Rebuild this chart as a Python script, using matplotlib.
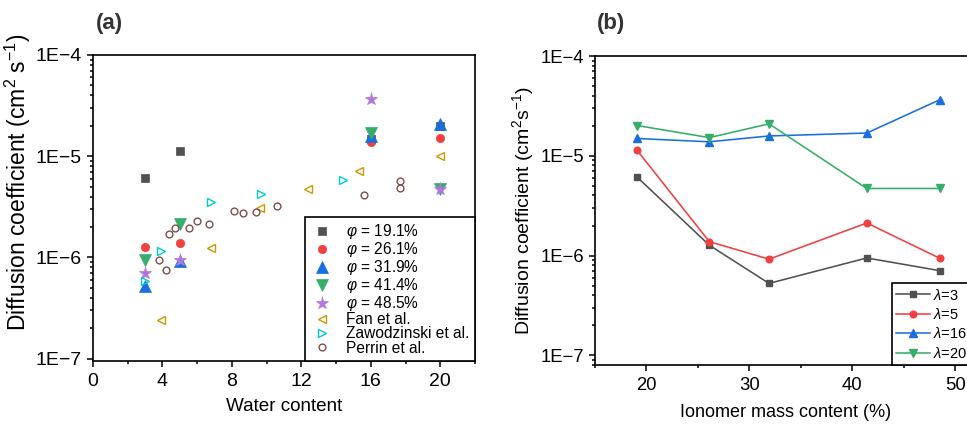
import matplotlib
matplotlib.use("Agg")
import math
import matplotlib.pyplot as plt
from matplotlib.ticker import LogLocator, MultipleLocator, FuncFormatter, NullFormatter

plt.rcParams['font.family'] = ['Liberation Sans', 'DejaVu Sans']
plt.rcParams['mathtext.fontset'] = 'custom'
plt.rcParams['mathtext.rm'] = 'Liberation Sans'
plt.rcParams['mathtext.it'] = 'Liberation Sans:italic'
plt.rcParams['mathtext.default'] = 'regular'

# water content (lambda) and ionomer mass content (phi)
lam = [3, 5, 16, 20]
phi = [19.1, 26.1, 31.9, 41.4, 48.5]
phi_labels = ['19.1%', '26.1%', '31.9%', '41.4%', '48.5%']

# diffusion coefficient, rows = lambda, cols = phi
D_lam3 = [6.1e-6, 1.27e-6, 5.26e-7, 9.46e-7, 7.05e-7]
D_lam5 = [1.13e-5, 1.38e-6, 9.2e-7, 2.12e-6, 9.37e-7]
D_lam16 = [1.49e-5, 1.38e-5, 1.58e-5, 1.69e-5, 3.65e-5]
D_lam20 = [2.01e-5, 1.52e-5, 2.09e-5, 4.7e-6, 4.7e-6]
D_table = [D_lam3, D_lam5, D_lam16, D_lam20]

# literature data
fan_x = [3.9, 6.8, 9.6, 12.4, 15.3, 20]
fan_D = [2.4e-7, 1.23e-6, 3.1e-6, 4.8e-6, 7.2e-6, 1.0e-5]
zaw_x = [3.0, 3.9, 6.8, 9.7, 14.4]
zaw_D = [5.9e-7, 1.17e-6, 3.56e-6, 4.27e-6, 5.8e-6]
per_x = [3.8, 4.2, 4.4, 4.75, 5.55, 5.97, 6.69, 8.13, 8.63, 9.4, 10.6, 15.6, 17.7, 17.7]
per_D = [9.5e-7, 7.6e-7, 1.69e-6, 1.94e-6, 1.97e-6, 2.29e-6, 2.15e-6, 2.88e-6,
         2.77e-6, 2.83e-6, 3.22e-6, 4.14e-6, 5.7e-6, 4.9e-6]

colors = ['#515151', '#F14040', '#1A6FDF', '#37AD6B', '#B177DE']
markers = ['s', 'o', '^', 'v', '*']
sizes_a = [5.8, 6.0, 8.0, 8.0, 9.5]
sizes_b = [4.6, 4.8, 5.6, 5.6]
lit_colors = ['#CC9900', '#00CBCC', '#7D4E4E']

W, H = 967, 426
fig = plt.figure(figsize=(W / 100, H / 100), dpi=100)
ax1 = fig.add_axes([93 / W, 1 - 361 / H, (475 - 93) / W, (361 - 55) / H])
ax2 = fig.add_axes([595 / W, 1 - 365 / H, 381 / W, (365 - 56) / H])


def efmt(v, pos):
    e = int(round(math.log10(v)))
    return '1E\u2212%d' % (-e)


def style_axes(ax, lsize):
    ax.set_yscale('log')
    ax.yaxis.set_major_locator(LogLocator(base=10, numticks=10))
    ax.yaxis.set_minor_locator(LogLocator(base=10, subs=range(2, 10), numticks=10))
    ax.yaxis.set_major_formatter(FuncFormatter(efmt))
    ax.yaxis.set_minor_formatter(NullFormatter())
    ax.tick_params(which='both', direction='out', width=1.1, labelsize=lsize,
                   top=False, right=False)
    ax.tick_params(which='major', length=4.5)
    ax.tick_params(which='minor', length=2.5)
    ax.tick_params(axis='x', which='major', pad=4)
    for s in ax.spines.values():
        s.set_linewidth(1.2)


# ---- panel (a)
for j in range(len(phi)):
    vals = [D_table[i][j] for i in range(len(lam))]
    ax1.plot(lam, vals, linestyle='none', marker=markers[j], ms=sizes_a[j],
             color=colors[j], mec=colors[j], mew=0.5,
             label=r'$\mathit{\varphi}$ = ' + phi_labels[j])
ax1.plot(fan_x, fan_D, linestyle='none', marker='<', ms=5.5, mfc='none',
         mec=lit_colors[0], mew=1.0, label='Fan et al.')
ax1.plot(zaw_x, zaw_D, linestyle='none', marker='>', ms=5.5, mfc='none',
         mec=lit_colors[1], mew=1.0, label='Zawodzinski et al.')
ax1.plot(per_x, per_D, linestyle='none', marker='o', ms=4.9, mfc='none',
         mec=lit_colors[2], mew=1.0, label='Perrin et al.')

style_axes(ax1, 14)
ax1.set_xlim(0, 22)
ax1.set_ylim(9.5e-8, 1e-4)
ax1.xaxis.set_major_locator(MultipleLocator(4))
ax1.xaxis.set_minor_locator(MultipleLocator(2))
ax1.set_xlabel('Water content', fontsize=13.6, labelpad=6)
ax1.set_ylabel('Diffusion coefficient (cm$^2$ s$^{-1}$)', fontsize=16.5)
ax1.yaxis.set_label_coords(-0.157, 0.583)
leg1 = ax1.legend(loc='lower right', borderaxespad=0, fontsize=11.2, frameon=True,
                  fancybox=False, edgecolor='black', framealpha=1,
                  handlelength=1.5, handletextpad=0.8, labelspacing=-0.06,
                  borderpad=0.35, numpoints=1)
leg1.get_frame().set_linewidth(1.2)
fig.text(96 / W, 1 - 24 / H, '(a)', fontsize=16, fontweight='bold',
         color='#333333', va='center', ha='left')

# ---- panel (b)
lam_labels = [r'$\mathit{\lambda}$=%d' % l for l in lam]
for i in range(len(lam)):
    ax2.plot(phi, D_table[i], marker=markers[i], ms=sizes_b[i], lw=1.15,
             color=colors[i], label=lam_labels[i])

style_axes(ax2, 13.3)
ax2.set_xlim(15, 52)
ax2.set_ylim(8e-8, 1e-4)
ax2.xaxis.set_major_locator(MultipleLocator(10))
ax2.xaxis.set_minor_locator(MultipleLocator(5))
ax2.set_xlabel('Ionomer mass content (%)', fontsize=13, labelpad=7)
ax2.set_ylabel('Diffusion coefficient (cm$^2$s$^{-1}$)', fontsize=14, labelpad=3)
leg2 = ax2.legend(loc='lower left', bbox_to_anchor=((892 - 595) / 381, 0),
                  borderaxespad=0, fontsize=10.5, frameon=True, fancybox=False,
                  edgecolor='black', framealpha=1, handlelength=2.3,
                  handletextpad=0.2, labelspacing=0.3, borderpad=0.3)
leg2.get_frame().set_linewidth(1.2)
fig.text(597 / W, 1 - 24 / H, '(b)', fontsize=16, fontweight='bold',
         color='#333333', va='center', ha='left')

fig.savefig('out.png', dpi=100)
